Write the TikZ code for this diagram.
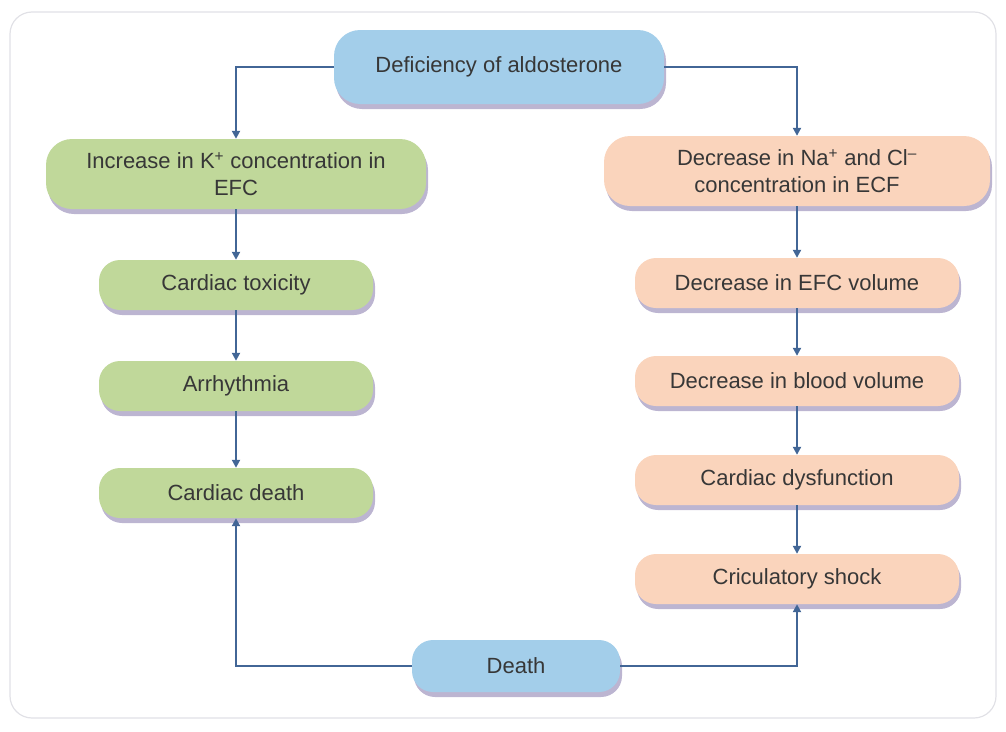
\documentclass[tikz,border=0pt]{standalone}
\usepackage{fontspec}
\setmainfont{Liberation Sans}
\usetikzlibrary{shadows, arrows.meta}
\definecolor{boxblue}{RGB}{163,206,234}
\definecolor{boxgreen}{RGB}{192,216,154}
\definecolor{boxpeach}{RGB}{250,212,188}
\definecolor{linkblue}{RGB}{66,102,150}
\definecolor{shadowgrey}{RGB}{160,150,190}
\definecolor{textgrey}{RGB}{55,55,55}
\definecolor{framegrey}{RGB}{225,225,230}
\tikzstyle{stage} = [rectangle, rounded corners=21pt, text=textgrey, align=center, font=\fontsize{22}{27}\selectfont, drop shadow={shadow xshift=2pt, shadow yshift=-5pt, fill=shadowgrey, opacity=0.7}]
\tikzstyle{hormone} = [stage, fill=boxblue]
\tikzstyle{potassium} = [stage, fill=boxgreen, minimum width=274pt, minimum height=50pt]
\tikzstyle{sodium} = [stage, fill=boxpeach, minimum width=324pt, minimum height=50pt]
\tikzstyle{arrow} = [line width=2.4pt, draw=linkblue, -{Triangle[length=8pt,width=8pt]}]

\begin{document}
\begin{tikzpicture}[x=1pt, y=-1pt]
\useasboundingbox (0,0) rectangle (1006,731);
% Frame
\draw[framegrey, line width=1.2pt, rounded corners=22pt] (10,12) rectangle (996,718);

% Top
\node[hormone, minimum width=330pt, minimum height=74pt, rounded corners=26pt] (defic) at (499,67) {Deficiency of aldosterone};

% Left column
\node[potassium, minimum width=380pt, minimum height=70pt, rounded corners=26pt] (kconc) at (236,174) {Increase in K\textsuperscript{+} concentration in\\EFC};
\node[potassium] (toxic) at (236,285) {Cardiac toxicity};
\node[potassium] (arrhy) at (236,386) {Arrhythmia};
\node[potassium] (cdeath) at (236,493) {Cardiac death};

% Right column
\node[sodium, minimum width=386pt, minimum height=70pt, rounded corners=26pt] (nacl) at (797,171) {Decrease in Na\textsuperscript{+} and Cl\textsuperscript{--}\\concentration in ECF};
\node[sodium] (efcvol) at (797,283) {Decrease in EFC volume};
\node[sodium] (bloodvol) at (797,381) {Decrease in blood volume};
\node[sodium] (cardys) at (797,480) {Cardiac dysfunction};
\node[sodium] (shock) at (797,579) {Criculatory shock};

% Bottom
\node[hormone, minimum width=208pt, minimum height=52pt] (death) at (516,666) {Death};

% Arrows
\draw[arrow] (defic.west) -| (kconc.north);
\draw[arrow] (defic.east) -| (nacl.north);
\foreach \a/\b in {kconc/toxic, toxic/arrhy, arrhy/cdeath, nacl/efcvol, efcvol/bloodvol, bloodvol/cardys, cardys/shock}
    \draw[arrow] (\a) -- (\b);
\draw[arrow] (death.west) -| (cdeath.south);
\draw[arrow] (death.east) -| (shock.south);
\end{tikzpicture}
\end{document}
